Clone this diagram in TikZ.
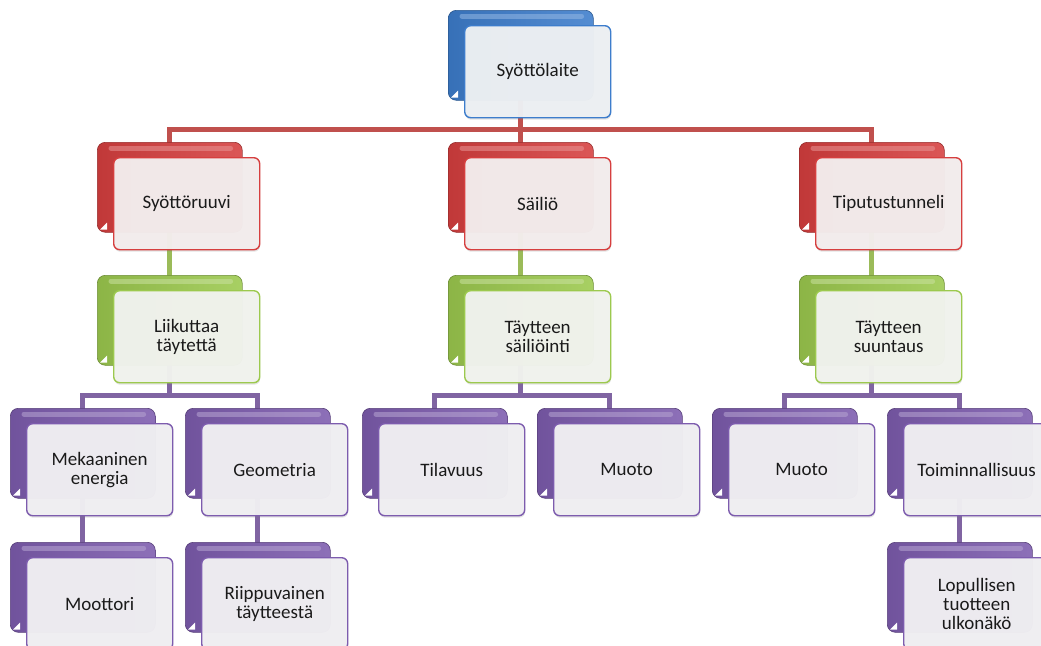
\documentclass[tikz,border=0pt]{standalone}
\usepackage{fontspec}
\setmainfont{Carlito}
\usetikzlibrary{backgrounds,shadows,calc}
\definecolor{bblue}{HTML}{3D7DCC}
\definecolor{bred}{HTML}{D63F3F}
\definecolor{bgreen}{HTML}{9CC94E}
\definecolor{bpurple}{HTML}{7D5CAE}
\definecolor{lred}{HTML}{C0504D}
\definecolor{lgreen}{HTML}{9BBB59}
\definecolor{lpurple}{HTML}{8064A2}
\definecolor{txt}{HTML}{1A1A1A}
\tikzset{
  backbox/.style={draw=#1!70!black, line width=0.6pt, rounded corners=8pt,
    minimum width=145pt, minimum height=90pt, inner sep=0pt,
    left color=#1!90!black, right color=#1!88!white, anchor=north west},
  gloss/.style={draw=#1!55!white, line width=5pt, line cap=round, opacity=0.55},
  frontbox/.style={draw=#1, line width=1.4pt, rounded corners=6pt,
    minimum width=146pt, minimum height=92pt, inner sep=2pt,
    fill=#1!4!white!96!black, fill opacity=0.97, text opacity=1,
    anchor=north west, align=center, text=txt,
    font=\fontsize{19}{19}\selectfont,
    drop shadow={opacity=0.22, shadow xshift=0.5pt, shadow yshift=-2pt}},
  conn/.style={line width=5pt, draw=#1},
  corner/.style={fill=white}
}
\newcommand{\boxpair}[5]{% name, color, x, y, text
  \node[backbox=#2] (b#1) at (#3,#4) {};
  \draw[gloss=#2] ($(b#1.north west)+(14pt,-6pt)$) -- ($(b#1.north east)+(-12pt,-6pt)$);
  \fill[corner] ($(b#1.south west)+(3pt,3pt)$) -- ++(7pt,0) -- ++(0,7pt) -- cycle;
  \node[frontbox=#2] (f#1) at ([shift={(16pt,-15pt)}]b#1.north west) {#5};
}
\begin{document}
\begin{tikzpicture}[x=1pt,y=-1pt]
\useasboundingbox (0,0) rectangle (1041,645);
% level 0
\boxpair{0}{bblue}{448}{10}{Syöttölaite}
% level 1
\boxpair{1a}{bred}{97}{142}{Syöttöruuvi}
\boxpair{1b}{bred}{448}{142}{Säiliö}
\boxpair{1c}{bred}{799}{142}{Tiputustunneli}
% level 2
\boxpair{2a}{bgreen}{97}{275}{Liikuttaa\\täytettä}
\boxpair{2b}{bgreen}{448}{275}{Täytteen\\säiliöinti}
\boxpair{2c}{bgreen}{799}{275}{Täytteen\\suuntaus}
% level 3
\boxpair{3a}{bpurple}{10}{408}{Mekaaninen\\energia}
\boxpair{3b}{bpurple}{185}{408}{Geometria}
\boxpair{3c}{bpurple}{362}{408}{Tilavuus}
\boxpair{3d}{bpurple}{537}{408}{Muoto}
\boxpair{3e}{bpurple}{712}{408}{Muoto}
\boxpair{3f}{bpurple}{887}{408}{Toiminnallisuus}
% level 4
\boxpair{4a}{bpurple}{10}{542}{Moottori}
\boxpair{4b}{bpurple}{185}{542}{Riippuvainen\\täytteestä}
\boxpair{4f}{bpurple}{887}{542}{Lopullisen\\tuotteen\\ulkonäkö}
% connectors
\coordinate (busR) at (0,129);
\coordinate (busP) at (0,395);
\begin{pgfonlayer}{background}
  \draw[conn=lred] (b1a.center) |- (b1b.center |- busR) -| (b1c.center);
  \draw[conn=lred] (b0.center) -- (b1b.center);
  \draw[conn=lgreen] (b1a.center) -- (b2a.center);
  \draw[conn=lgreen] (b1b.center) -- (b2b.center);
  \draw[conn=lgreen] (b1c.center) -- (b2c.center);
  \draw[conn=lpurple] (b3a.center) |- (b2a.center |- busP) -| (b3b.center);
  \draw[conn=lpurple] (b2a.center) -- (b2a.center |- busP);
  \draw[conn=lpurple] (b3c.center) |- (b2b.center |- busP) -| (b3d.center);
  \draw[conn=lpurple] (b2b.center) -- (b2b.center |- busP);
  \draw[conn=lpurple] (b3e.center) |- (b2c.center |- busP) -| (b3f.center);
  \draw[conn=lpurple] (b2c.center) -- (b2c.center |- busP);
  \draw[conn=lpurple] (b3a.center) -- (b4a.center);
  \draw[conn=lpurple] (b3b.center) -- (b4b.center);
  \draw[conn=lpurple] (b3f.center) -- (b4f.center);
\end{pgfonlayer}
\end{tikzpicture}
\end{document}
